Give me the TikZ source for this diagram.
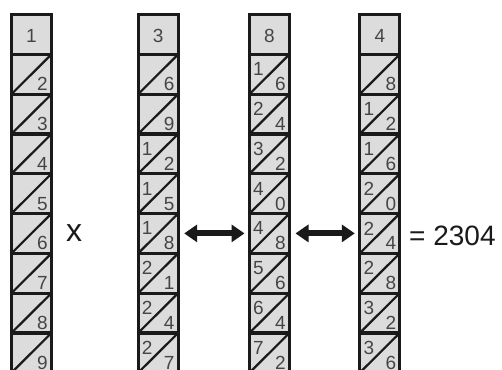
\documentclass[tikz,border=0pt]{standalone}
\usepackage{fontspec}
\setmainfont{Liberation Sans}
\usetikzlibrary{arrows.meta}
\definecolor{cellfill}{HTML}{DCDCDC}
\definecolor{ink}{HTML}{1A1A1A}
\definecolor{digit}{HTML}{454545}
\tikzset{
  cell/.style={draw=ink, line width=3.2pt, fill=cellfill, minimum width=40pt, minimum height=39.8pt, inner sep=0pt, outer sep=0pt},
  diag/.style={draw=ink, line width=2.2pt},
  dig/.style={text=digit, font=\fontsize{19}{19}\selectfont, inner sep=0pt},
  biarrow/.style={draw=ink, line width=6pt, {Triangle[length=13pt,width=17pt]}-{Triangle[length=13pt,width=17pt]}, shorten <=6pt, shorten >=5pt},
}
\newcommand\napcol[4]{%
  \node[cell] (#1r0) at (#2,34.4) {};
  \node[dig] (#1h) at ([yshift=-2pt]#1r0.center) {#3};
  \foreach[count=\r] \t/\u in {#4} {
    \node[cell] (#1r\r) at (#2,34.4+39.8*\r) {};
    \draw[diag] (#1r\r.south west) -- (#1r\r.north east);
    \node[dig] (#1t\r) at ([xshift=-11pt,yshift=5pt]#1r\r.center) {\t};
    \node[dig] (#1u\r) at ([xshift=11pt,yshift=-10pt]#1r\r.center) {\u};
  }%
}
\begin{document}
\begin{tikzpicture}[x=1pt,y=-1pt]
\useasboundingbox (0,0) rectangle (502,369);
\fill[white] (0,0) rectangle (502,369);
\napcol{a}{31.5}{1}{/2,/3,/4,/5,/6,/7,/8,/9}
\napcol{b}{158.2}{3}{/6,/9,1/2,1/5,1/8,2/1,2/4,2/7}
\napcol{c}{269.5}{8}{1/6,2/4,3/2,4/0,4/8,5/6,6/4,7/2}
\napcol{d}{379.8}{4}{/8,1/2,1/6,2/0,2/4,2/8,3/2,3/6}
\draw[biarrow] (br5.east) -- (cr5.west);
\draw[biarrow] (cr5.east) -- (dr5.west);
\node[font=\fontsize{32}{32}\selectfont, text=ink, inner sep=0pt] (times) at (74,233) {x};
\node[anchor=west, font=\fontsize{28}{28}\selectfont, text=ink, inner sep=0pt] (result) at (409,236) {= 2304};
\end{tikzpicture}
\end{document}
